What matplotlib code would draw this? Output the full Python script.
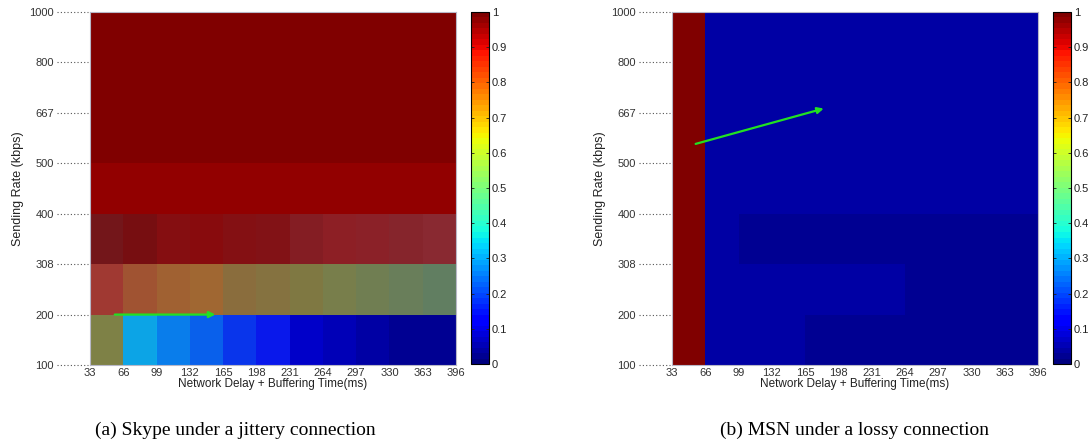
import numpy as np
import matplotlib
matplotlib.use('Agg')
import matplotlib.pyplot as plt

plt.rcParams['font.family'] = ['Liberation Sans', 'DejaVu Sans']

# grid edges (x: delay + buffering, y: sending rate)
delay_ticks = ['33', '66', '99', '132', '165', '198', '231', '264', '297', '330', '363', '396']
rate_ticks = ['100', '200', '308', '400', '500', '667', '800', '1000']

# Skype, jittery connection (rows from 100 kbps upwards)
skype_ratio = [
    [0.62, 0.31, 0.26, 0.22, 0.175, 0.15, 0.075, 0.05, 0.037, 0.024, 0.02],
    [0.86, 0.80, 0.78, 0.765, 0.705, 0.675, 0.655, 0.60, 0.57, 0.54, 0.50],
    [0.99, 0.99, 0.98, 0.98, 0.975, 0.97, 0.955, 0.95, 0.95, 0.94, 0.925],
    [0.975] * 11,
    [1.0] * 11,
    [1.0] * 11,
    [1.0] * 11,
]
# how washed out each Skype cell looks in the figure
skype_fade = [
    [0.70, 0.15, 0.12, 0.12, 0.12, 0.12, 0, 0, 0, 0, 0],
    [0.56, 0.56, 0.56, 0.56, 0.69, 0.72, 0.74, 0.714, 0.714, 0.714, 0.714],
    [0.30, 0.20, 0.20, 0.15, 0.22, 0.25, 0.40, 0.42, 0.45, 0.50, 0.55],
    [0] * 11,
    [0] * 11,
    [0] * 11,
    [0] * 11,
]

# MSN, lossy connection
msn_ratio = [
    [1.0, 0.032, 0.032, 0.032, 0.02, 0.02, 0.02, 0.02, 0.02, 0.02, 0.02],
    [1.0, 0.032, 0.032, 0.032, 0.032, 0.032, 0.032, 0.02, 0.02, 0.02, 0.02],
    [1.0, 0.035, 0.028, 0.028, 0.028, 0.028, 0.028, 0.028, 0.028, 0.028, 0.02],
    [1.0] + [0.032] * 10,
    [1.0] + [0.032] * 10,
    [1.0] + [0.032] * 10,
    [1.0] + [0.032] * 10,
]

# green arrows (start, end) in cell units
skype_arrow = ((0.66, 1.0), (3.85, 1.0))
msn_arrow = ((0.63, 4.37), (4.64, 5.10))

cmap = plt.get_cmap('jet', 64)
W, H = 1089, 448
fig = plt.figure(figsize=(W / 100, H / 100), dpi=100)


def heat(ax_rect, cb_rect, values, fade, arrow):
    ax = fig.add_axes(ax_rect)
    vals = np.array(values)
    nr, nc = vals.shape
    mesh = ax.pcolormesh(np.arange(nc + 1), np.arange(nr + 1), vals,
                         cmap=cmap, vmin=0, vmax=1, zorder=1)
    if fade is not None:
        f = np.array(fade, dtype=float)
        rgba = np.zeros((nr, nc, 4))
        rgba[..., 0] = 85 / 255
        rgba[..., 1] = 75 / 255
        rgba[..., 2] = 90 / 255
        rgba[..., 3] = f
        ax.imshow(rgba, extent=(0, nc, 0, nr), origin='lower',
                  interpolation='nearest', aspect='auto', zorder=2)
    ax.set_xlim(0, nc)
    ax.set_ylim(0, nr)
    ax.set_xticks(np.arange(nc + 1))
    ax.set_xticklabels(delay_ticks)
    ax.set_yticks(np.arange(nr + 1))
    ax.set_yticklabels(rate_ticks)
    ax.tick_params(axis='both', length=0, labelsize=8, colors='#333333')
    ax.tick_params(axis='y', pad=26)
    ax.tick_params(axis='x', pad=2)
    for s in ax.spines.values():
        s.set_color('#b8b8c8')
        s.set_linewidth(0.8)
    # dotted leaders between labels and the map
    for yy in range(nr + 1):
        ax.plot([-0.09, -0.005], [yy / nr, yy / nr], transform=ax.transAxes,
                clip_on=False, color='#555555', lw=0.8, ls=(0, (1, 2)))
    ax.set_xlabel('Network Delay + Buffering Time(ms)', fontsize=8.5,
                  labelpad=0, color='#222222')
    ax.set_ylabel('Sending Rate (kbps)', fontsize=9, labelpad=4, color='#222222')
    (x0, y0), (x1, y1) = arrow
    ax.annotate('', xy=(x1, y1), xytext=(x0, y0), zorder=5,
                arrowprops=dict(arrowstyle='-|>', color='#22e022', lw=1.6,
                                mutation_scale=9))
    cax = fig.add_axes(cb_rect)
    cb = fig.colorbar(mesh, cax=cax, ticks=np.arange(0, 1.01, 0.1))
    cb.ax.set_yticklabels(['0', '0.1', '0.2', '0.3', '0.4', '0.5', '0.6',
                           '0.7', '0.8', '0.9', '1'])
    cb.ax.tick_params(labelsize=8, length=2, width=0.6, direction='in',
                      left=True, right=True, pad=2, colors='#222222')
    cb.outline.set_linewidth(0.8)
    return ax


def rect(x0, y0, x1, y1):
    return [x0 / W, 1 - y1 / H, (x1 - x0) / W, (y1 - y0) / H]


heat(rect(90, 12, 456, 365), rect(471, 12, 489, 364), skype_ratio, skype_fade, skype_arrow)
heat(rect(672, 12, 1038, 365), rect(1053, 12, 1071, 364), msn_ratio, None, msn_arrow)

fig.text(235 / W, 1 - 430 / H, '(a) Skype under a jittery connection',
         ha='center', va='center', fontsize=14, family='Liberation Serif')
fig.text(855 / W, 1 - 430 / H, '(b) MSN under a lossy connection',
         ha='center', va='center', fontsize=14, family='Liberation Serif')

fig.savefig('out.png', dpi=100)
